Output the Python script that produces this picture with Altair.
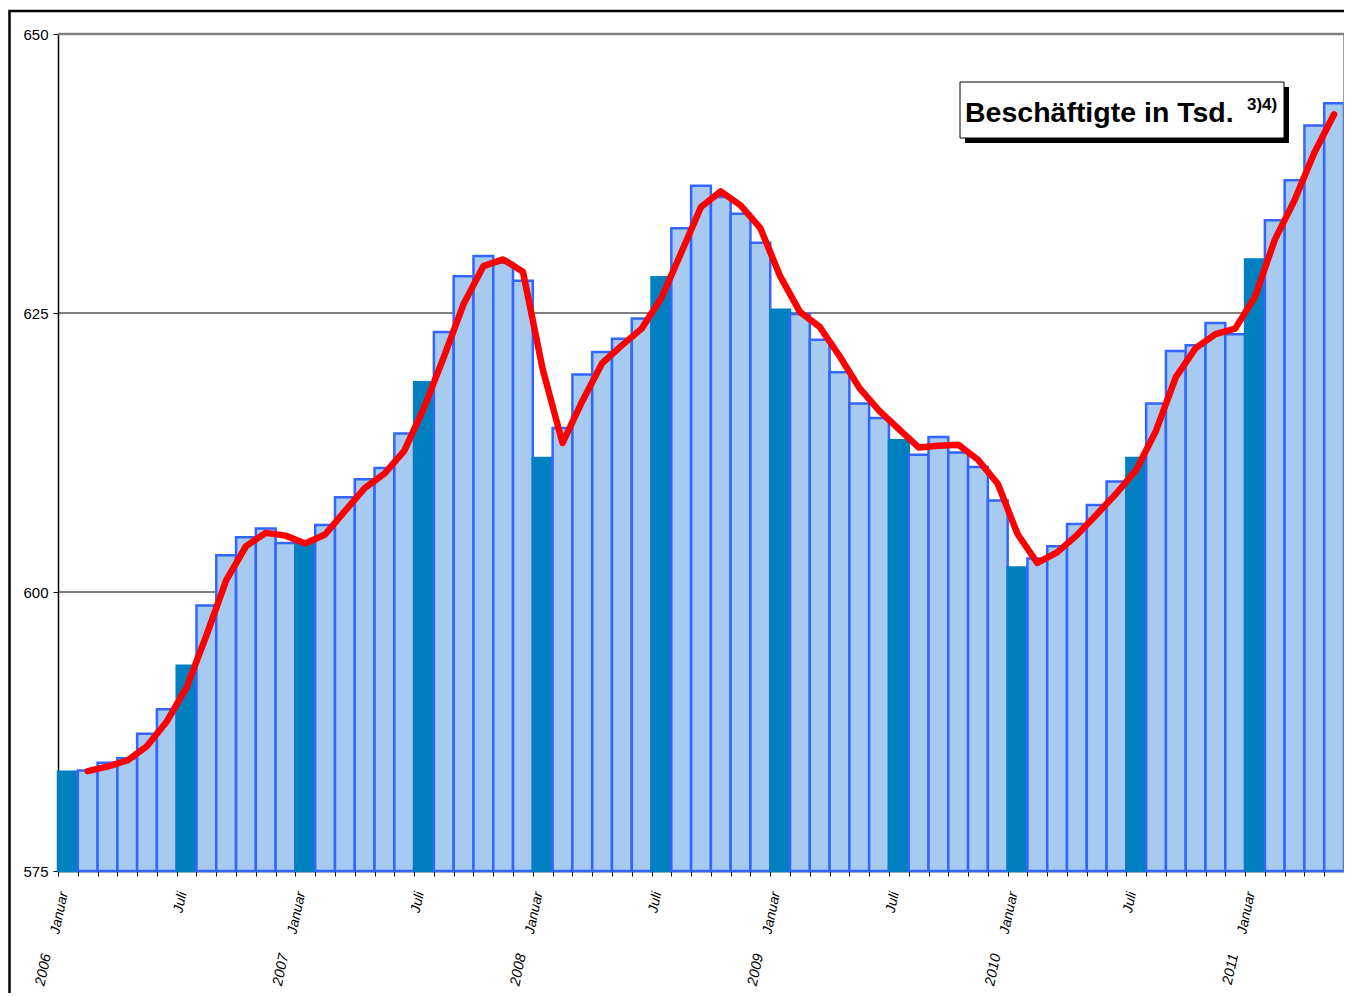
import altair as alt
import pandas as pd

# Monthly employment (Tsd.), Jan 2006 .. May 2011
values = [583.9, 584.0, 584.7, 585.1, 587.3, 589.5, 593.4, 598.8, 603.3, 604.9, 605.7, 604.4,
          604.3, 606.0, 608.5, 610.1, 611.1, 614.2, 618.8, 623.3, 628.3, 630.1, 629.5, 627.9,
          612.0, 614.7, 619.5, 621.5, 622.7, 624.5, 628.2, 632.6, 636.4, 635.4, 633.9, 631.3,
          625.3, 624.9, 622.6, 619.7, 616.9, 615.6, 613.6, 612.3, 613.9, 612.5, 611.2, 608.2,
          602.2, 603.0, 604.1, 606.1, 607.8, 609.9, 612.0, 616.9, 621.6, 622.1, 624.1, 623.1,
          629.8, 633.3, 636.9, 641.8, 643.8]
month_idx = list(range(len(values)))

# Red trend line, Feb 2006 .. May 2011
trend = [583.95, 584.35, 584.9, 586.2, 588.4, 591.45, 596.1, 601.05, 604.1, 605.3, 605.05,
         604.35, 605.15, 607.25, 609.3, 610.6, 612.65, 616.5, 621.05, 625.8, 629.2, 629.8,
         628.7, 619.95, 613.35, 617.1, 620.5, 622.1, 623.6, 626.35, 630.4, 634.5, 635.9,
         634.65, 632.6, 628.3, 625.1, 623.75, 621.15, 618.3, 616.25, 614.6, 612.95, 613.1,
         613.2, 611.85, 609.7, 605.2, 602.6, 603.55, 605.1, 606.95, 608.85, 610.95, 614.45,
         619.25, 621.85, 623.1, 623.6, 626.45, 631.55, 635.1, 639.35, 642.8]
trend_idx = list(range(1, 1 + len(trend)))

month_label_idx = [0, 6, 12, 18, 24, 30, 36, 42, 48, 54, 60]
month_label_text = ["Januar", "Juli"] * 5 + ["Januar"]
year_label_idx = [0, 12, 24, 36, 48, 60]
year_label_text = ["2006", "2007", "2008", "2009", "2010", "2011"]

y_ticks = [575, 600, 625, 650]
grid_values = [600, 625]
top_value = [650]

W, H = 1286, 837
FONT = "Liberation Sans, Arial, sans-serif"

xscale = alt.Scale(domain=[0, len(values)], nice=False, zero=False)
yscale = alt.Scale(domain=[575, 650], nice=False, zero=False)

x_axis = alt.Axis(values=list(range(len(values) + 1)), labels=False, ticks=True,
                  tickSize=5, tickColor="black", tickWidth=1, domainColor="black",
                  domainWidth=1.5, grid=False, title=None)
y_axis = alt.Axis(values=y_ticks, format="d", labelFontSize=15, labelFont=FONT,
                  labelColor="black", tickSize=5, tickColor="black", tickWidth=1,
                  domainColor="black", domainWidth=1.5, labelPadding=5,
                  grid=False, title=None)

bars_df = pd.DataFrame({"idx": month_idx, "v": values})
trend_df = pd.DataFrame({"idx": trend_idx, "v": trend})
mlab_df = pd.DataFrame({"idx": month_label_idx, "t": month_label_text})
ylab_df = pd.DataFrame({"idx": year_label_idx, "t": year_label_text})
grid_df = pd.DataFrame({"v": grid_values})
top_df = pd.DataFrame({"v": top_value})
one = pd.DataFrame({"a": [0]})

grid = alt.Chart(grid_df).mark_rule(color="black", strokeWidth=1).encode(
    y=alt.Y("v:Q", scale=yscale, axis=y_axis)
)
top_border = alt.Chart(top_df).mark_rule(color="#808080", strokeWidth=2.5).encode(
    y=alt.Y("v:Q", scale=yscale, axis=y_axis)
)
right_border = alt.Chart(one).mark_rule(color="#808080", strokeWidth=1.5).encode(
    x=alt.value(W), y=alt.value(0), y2=alt.value(H)
)

is_dark = "datum.idx % 6 == 0"
bars = alt.Chart(bars_df).transform_calculate(
    x0="datum.idx", x1="datum.idx + 1"
).mark_rect(strokeWidth=2.5).encode(
    x=alt.X("x0:Q", scale=xscale, axis=x_axis),
    x2="x1:Q",
    y=alt.Y("v:Q", scale=yscale, axis=y_axis),
    y2=alt.datum(575),
    fill=alt.condition(is_dark, alt.value("#0080C0"), alt.value("#A6CAF0")),
    stroke=alt.condition(is_dark, alt.value("#0080C0"), alt.value("#3366FF")),
)

line = alt.Chart(trend_df).transform_calculate(xc="datum.idx + 0.5").mark_line(
    color="#FF0000", strokeWidth=6.5, strokeCap="round", strokeJoin="round"
).encode(
    x=alt.X("xc:Q", scale=xscale, axis=x_axis),
    y=alt.Y("v:Q", scale=yscale, axis=y_axis),
)

month_labels = alt.Chart(mlab_df).transform_calculate(pos="datum.idx + 0.3").mark_text(
    angle=282, align="right", baseline="middle", fontSize=14, fontStyle="italic",
    font=FONT, color="black"
).encode(
    x=alt.X("pos:Q", scale=xscale, axis=x_axis),
    y=alt.value(H + 21),
    text="t:N",
)

year_labels = alt.Chart(ylab_df).transform_calculate(pos="datum.idx - 0.55").mark_text(
    angle=282, align="right", baseline="middle", fontSize=14.5, fontStyle="italic",
    font=FONT, color="black"
).encode(
    x=alt.X("pos:Q", scale=xscale, axis=x_axis),
    y=alt.value(H + 83),
    text="t:N",
)

shadow = alt.Chart(one).mark_rect(color="black").encode(
    x=alt.value(907), x2=alt.value(1231), y=alt.value(53), y2=alt.value(109)
)
box = alt.Chart(one).mark_rect(fill="white", stroke="black", strokeWidth=1).encode(
    x=alt.value(902), x2=alt.value(1226), y=alt.value(48), y2=alt.value(104)
)
title = alt.Chart(one).mark_text(
    text="Beschäftigte in Tsd.", align="left", baseline="alphabetic", fontSize=28.5,
    fontWeight="bold", font=FONT, color="black"
).encode(x=alt.value(907), y=alt.value(88))
sup = alt.Chart(one).mark_text(
    text="3)4)", align="left", baseline="alphabetic", fontSize=17,
    fontWeight="bold", font=FONT, color="black"
).encode(x=alt.value(1189), y=alt.value(76))

frame = alt.Chart(one).mark_rect(filled=False, stroke="black", strokeWidth=2.5).encode(
    x=alt.value(-48.5), x2=alt.value(W + 60), y=alt.value(-23), y2=alt.value(H + 200)
)

chart = alt.layer(
    grid, bars, top_border, right_border, line, month_labels, year_labels,
    shadow, box, title, sup, frame
).properties(
    width=W, height=H,
    autosize=alt.AutoSizeParams(type="none"),
    padding={"left": 50, "top": 26, "right": 0, "bottom": 122},
).configure_view(
    strokeWidth=0
).configure(background="white")

chart.save("out.html", embed_options={"renderer": "svg", "actions": False})
